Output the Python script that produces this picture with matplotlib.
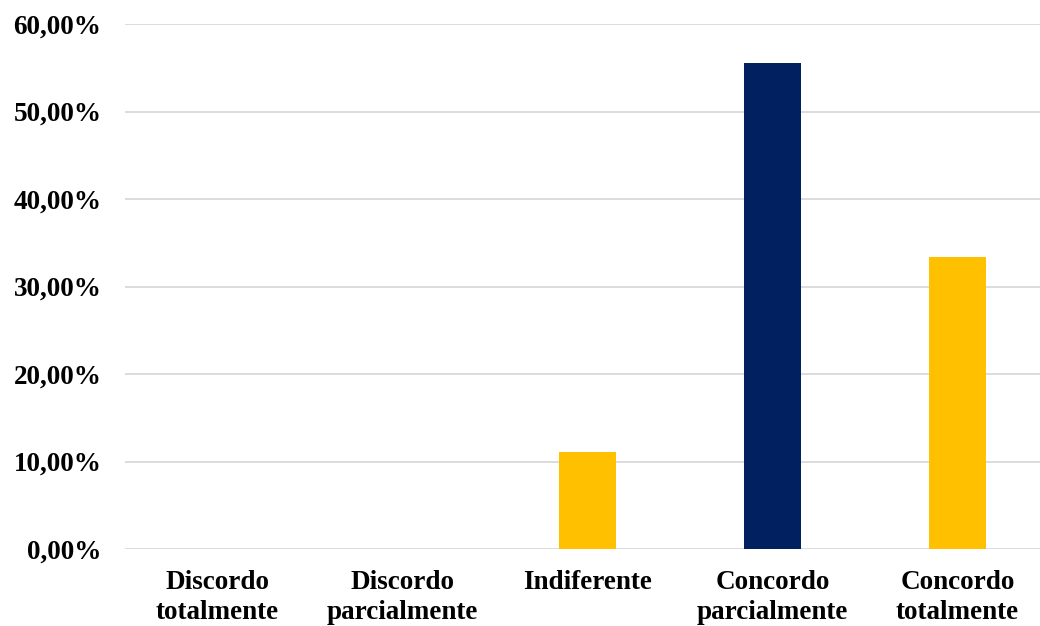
import matplotlib

matplotlib.use("Agg")
import matplotlib.pyplot as plt
from matplotlib.ticker import FuncFormatter

categories = [
    "Discordo\ntotalmente",
    "Discordo\nparcialmente",
    "Indiferente",
    "Concordo\nparcialmente",
    "Concordo\ntotalmente",
]
values = [0.0, 0.0, 0.1111, 0.5556, 0.3333]
colors = ["#FFC000", "#FFC000", "#FFC000", "#002060", "#FFC000"]
yticks = [0.0, 0.1, 0.2, 0.3, 0.4, 0.5, 0.6]

plt.rcParams["font.family"] = ["Liberation Serif", "DejaVu Serif"]
plt.rcParams["font.weight"] = "bold"

fig = plt.figure(figsize=(10.4, 6.26), dpi=100)
# axes deliberately runs a little past the right edge, like the source
ax = fig.add_axes([125 / 1040, 77 / 626, 925 / 1040, 525 / 626])

x = range(len(categories))
ax.bar(x, values, width=0.31, color=colors, zorder=3)

ax.set_xlim(-0.5, len(categories) - 0.5)
ax.set_ylim(0, 0.6)
ax.set_yticks(yticks)
ax.yaxis.set_major_formatter(
    FuncFormatter(lambda v, _: f"{v * 100:.2f}%".replace(".", ","))
)
ax.set_xticks(list(x))
ax.set_xticklabels(categories, linespacing=1.25)

ax.grid(True, axis="y", color="#D9D9D9", lw=1.3, zorder=0)
for s in ax.spines.values():
    s.set_visible(False)
ax.tick_params(axis="y", length=0, pad=17, labelsize=19.5)
ax.tick_params(axis="x", length=0, pad=15, labelsize=19.5)
for lbl in ax.get_xticklabels() + ax.get_yticklabels():
    lbl.set_fontweight("bold")

fig.savefig("out.png", dpi=100)
